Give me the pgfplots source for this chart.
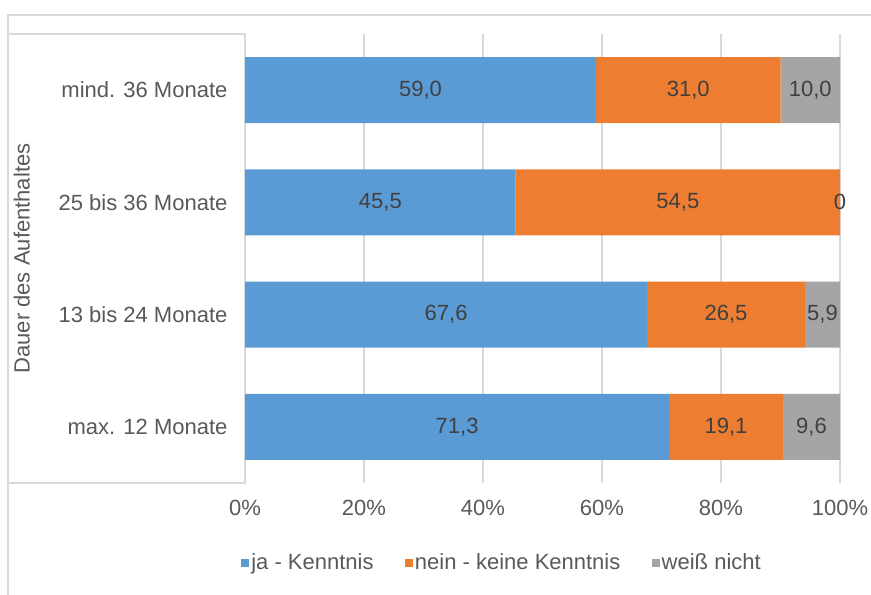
\documentclass[border=0pt]{standalone}
\usepackage{pgfplots}
\pgfplotsset{compat=1.18}
\usepackage{pgfplotstable}
\usepackage{fontspec}
\setmainfont{Liberation Sans}
\definecolor{cja}{HTML}{5B9BD5}
\definecolor{cnein}{HTML}{ED7D31}
\definecolor{cweiss}{HTML}{A5A5A5}
\definecolor{txt}{HTML}{595959}
\definecolor{lbl}{HTML}{404040}
\definecolor{grd}{HTML}{D9D9D9}

% Dauer des Aufenthaltes, Anteile in %
\pgfplotstableread{
pos ja   nein weiss jal  neinl weissl
0   71.3 19.1 9.6   71,3 19,1  9,6
1   67.6 26.5 5.9   67,6 26,5  5,9
2   45.5 54.5 0.0   45,5 54,5  0
3   59.0 31.0 10.0  59,0 31,0  10,0
}\daten

% Mitte jedes Segments, fuer die Beschriftung
\pgfplotstableread{
pos mja   mnein mweiss jal  neinl weissl
0   35.65 80.85 95.2   71,3 19,1  9,6
1   33.8  80.85 97.05  67,6 26,5  5,9
2   22.75 72.75 100    45,5 54,5  0
3   29.5  74.5  95     59,0 31,0  10,0
}\mitten

\pgfplotsset{
  gemeinsam/.style={
    at={(183.75pt,-362.25pt)}, anchor=south west,
    scale only axis,
    width=446.25pt, height=336.75pt,
    xmin=0, xmax=100, ymin=-0.5, ymax=3.5,
    enlargelimits=false,
  },
}

\begin{document}
\begin{tikzpicture}[font=\fontsize{16.5}{20}\selectfont]
\begin{scope}[x=0.75pt,y=-0.75pt]
  \useasboundingbox (0,0) rectangle (871,595);
  \draw[grd, line width=1pt] (8,595) -- (8,15) -- (871,15);
  \draw[grd, line width=1pt, fill=white] (8,34) rectangle (245,483);
\end{scope}
\begin{axis}[
  gemeinsam,
  xbar stacked,
  bar width=49.5pt,
  axis line style={draw=none},
  tick style={draw=none},
  xtick={0,20,40,60,80,100},
  xticklabels={0\%,20\%,40\%,60\%,80\%,100\%},
  ytick={0,1,2,3},
  yticklabels={max. 12 Monate,13 bis 24 Monate,25 bis 36 Monate,mind. 36 Monate},
  xmajorgrids, grid style={grd, line width=1pt},
  every tick label/.append style={text=txt, font=\fontsize{16.5}{20}\selectfont},
  x tick label style={anchor=north, inner sep=0pt, yshift=-13pt},
  y tick label style={anchor=east, inner sep=0pt, xshift=-13pt},
  ylabel={Dauer des Aufenthaltes},
  every axis y label/.style={at={(rel axis cs:-0.375,0.5)}, rotate=90, anchor=center,
    text=txt, font=\fontsize{16.5}{20}\selectfont},
  legend columns=3,
  legend style={at={(rel axis cs:0.432,-0.178)}, anchor=center, draw=none, fill=none,
    text=txt, font=\fontsize{16.5}{20}\selectfont,
    /tikz/every even column/.append style={column sep=22pt},
    nodes={inner sep=1.5pt}},
  legend image code/.code={\fill[#1] (0pt,-3pt) rectangle (6pt,3pt);},
]
\addplot[fill=cja, draw=none] table[x=ja, y=pos] {\daten};
\addplot[fill=cnein, draw=none] table[x=nein, y=pos] {\daten};
\addplot[fill=cweiss, draw=none] table[x=weiss, y=pos] {\daten};
\legend{ja - Kenntnis, nein - keine Kenntnis, weiß nicht}
\end{axis}
\begin{axis}[
  gemeinsam,
  hide axis,
  point meta=explicit symbolic,
  nodes near coords,
  nodes near coords style={anchor=center, text=lbl, font=\fontsize{16.5}{20}\selectfont},
]
\addplot[only marks, mark=none] table[x=mja, y=pos, meta=jal] {\mitten};
\addplot[only marks, mark=none] table[x=mnein, y=pos, meta=neinl] {\mitten};
\addplot[only marks, mark=none] table[x=mweiss, y=pos, meta=weissl] {\mitten};
\end{axis}
\end{tikzpicture}
\end{document}
